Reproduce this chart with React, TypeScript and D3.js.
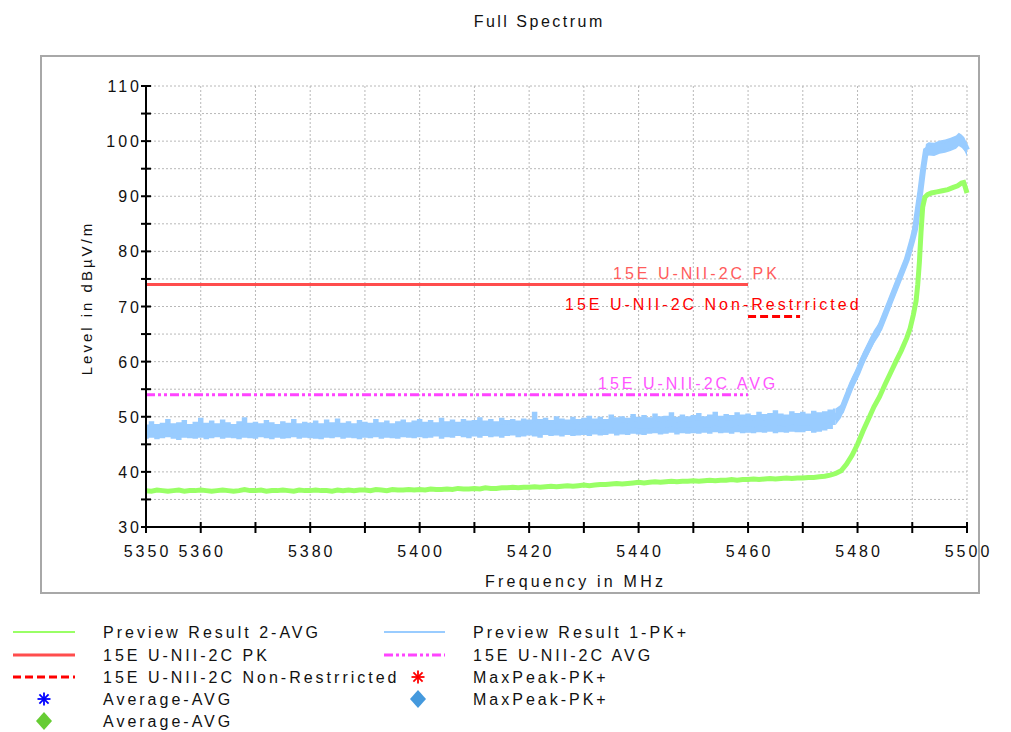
import React from "react";
import * as d3 from "d3";

// ---------- data ----------
const title = "Full Spectrum";
const xLabel = "Frequency in MHz";
const yLabel = "Level in dBµV/m";
const xDomain = [5350, 5500];
const yDomain = [30, 110];
const xTickLabels = [5350, 5360, 5380, 5400, 5420, 5440, 5460, 5480, 5500];
const yTickLabels = [30, 40, 50, 60, 70, 80, 90, 100, 110];

// Preview Result 1-PK+ : 1 MHz samples 5350..5476 (low / high edges of the noisy trace)
const pkFlatStart = 5350;
const pkFlatLo = [
  46.0, 46.2, 45.9, 46.1, 46.3, 46.0, 45.8, 46.2, 46.1, 46.0,
  46.2, 45.9, 46.1, 46.3, 46.0, 46.2, 46.1, 45.9, 46.2, 46.1,
  46.0, 46.3, 46.1, 45.9, 46.2, 46.0, 46.1, 46.3, 46.0, 46.2,
  46.1, 46.0, 45.9, 46.2, 46.1, 46.3, 46.0, 46.2, 46.1, 45.9,
  46.2, 46.1, 46.3, 46.0, 46.2, 46.1, 46.0, 46.3, 46.2, 46.1,
  46.3, 46.1, 46.2, 46.4, 46.0, 46.3, 46.2, 46.5, 46.3, 46.1,
  46.4, 46.2, 46.5, 46.3, 46.4, 46.2, 46.5, 46.6, 46.3, 46.4,
  46.6, 46.4, 46.2, 46.7, 46.5, 46.6, 46.4, 46.7, 46.5, 46.6,
  46.7, 46.5, 46.8, 46.6, 46.7, 46.9, 46.6, 46.8, 46.7, 46.9,
  46.8, 46.7, 46.9, 47.0, 46.8, 46.9, 47.1, 46.8, 47.0, 46.9,
  47.0, 46.9, 47.1, 46.9, 47.2, 47.0, 47.1, 46.9, 47.2, 47.0,
  47.1, 47.0, 47.2, 47.1, 47.3, 47.0, 47.2, 47.1, 47.3, 47.2,
  47.2, 47.4, 47.1, 47.3, 47.5, 47.8, 48.5,
];
const pkFlatHi = [
  48.6, 49.2, 48.7, 48.9, 49.6, 48.8, 49.0, 49.4, 48.7, 49.1,
  49.8, 48.9, 49.3, 48.8, 49.5, 49.0, 48.7, 49.2, 49.9, 48.9,
  49.1, 48.8, 49.4, 49.0, 48.7, 49.2, 48.9, 49.6, 48.8, 49.1,
  48.9, 49.3, 48.8, 49.5, 49.0, 49.7, 48.9, 49.2, 48.8, 49.4,
  49.1, 48.9, 49.6, 49.0, 49.3, 48.8, 49.2, 49.5, 49.0, 49.3,
  49.6, 49.1, 49.4, 49.0, 49.8, 49.2, 49.5, 49.1, 49.6, 49.3,
  49.4, 49.9, 49.3, 49.6, 49.2, 49.8, 49.4, 49.6, 49.3, 49.7,
  49.5, 50.9, 49.6, 49.8, 49.4, 50.1, 49.7, 49.5, 50.0, 49.6,
  49.8, 50.2, 49.7, 50.0, 49.6, 50.4, 49.9, 50.1, 49.8, 50.5,
  50.0, 50.3, 49.9, 50.6, 50.1, 50.2, 50.8, 50.0, 50.4, 50.1,
  50.3, 50.7, 50.1, 50.4, 50.9, 50.2, 50.5, 50.3, 50.8, 50.4,
  50.6, 50.3, 50.9, 50.5, 50.7, 51.2, 50.6, 50.4, 51.0, 50.7,
  50.9, 50.6, 51.1, 50.8, 51.0, 51.3, 51.5,
];
// PK+ rising edge: frequency / centre level
const pkRiseFreq = [5477, 5478, 5479, 5480, 5481, 5482, 5483, 5484, 5485, 5486, 5487, 5488, 5489, 5490, 5490.5, 5491, 5491.5, 5492, 5492.5, 5493, 5494, 5495, 5496, 5497, 5498, 5498.5, 5499, 5499.5, 5500];
const pkRiseLevel = [51.0, 53.5, 56.0, 58.0, 60.5, 62.5, 64.5, 66.0, 68.5, 71.0, 73.5, 76.0, 78.5, 82.0, 84.0, 87.5, 91.0, 95.0, 98.3, 98.6, 98.5, 98.9, 99.1, 99.4, 99.8, 100.3, 100.0, 99.5, 98.4];

// Preview Result 2-AVG : 1 MHz samples 5350..5476
const avFlatStart = 5350;
const avFlat = [
  36.6, 36.5, 36.7, 36.6, 36.5, 36.6, 36.7, 36.5, 36.6, 36.6,
  36.7, 36.6, 36.5, 36.6, 36.7, 36.6, 36.5, 36.6, 36.8, 36.6,
  36.6, 36.7, 36.5, 36.6, 36.6, 36.7, 36.6, 36.5, 36.7, 36.6,
  36.6, 36.7, 36.6, 36.6, 36.5, 36.7, 36.6, 36.7, 36.6, 36.7,
  36.7, 36.6, 36.8, 36.7, 36.6, 36.8, 36.7, 36.7, 36.8, 36.7,
  36.8, 36.7, 36.9, 36.8, 36.8, 36.9, 36.8, 37.0, 36.9, 36.9,
  37.0, 36.9, 37.1, 37.0, 37.0, 37.1, 37.1, 37.2, 37.1, 37.2,
  37.2, 37.3, 37.2, 37.3, 37.4, 37.3, 37.4, 37.5, 37.4, 37.5,
  37.6, 37.5, 37.6, 37.7, 37.7, 37.8, 37.9, 37.8, 37.9, 38.0,
  38.1, 38.0, 38.1, 38.2, 38.1, 38.2, 38.3, 38.2, 38.3, 38.3,
  38.4, 38.3, 38.4, 38.5, 38.4, 38.5, 38.5, 38.6, 38.5, 38.6,
  38.6, 38.7, 38.6, 38.7, 38.8, 38.7, 38.8, 38.9, 38.8, 38.9,
  38.9, 39.0, 39.0, 39.1, 39.2, 39.4, 39.7,
];
const avRiseFreq = [5477, 5478, 5479, 5480, 5481, 5482, 5483, 5484, 5485, 5486, 5487, 5488, 5489, 5489.6, 5490.2, 5490.7, 5491.0, 5491.3, 5491.6, 5491.9, 5492.3, 5492.8, 5493.5, 5494.5, 5495.5, 5496.5, 5497.5, 5498.3, 5499.0, 5499.4, 5499.7, 5500];
const avRiseLevel = [40.2, 41.4, 43.0, 45.0, 47.4, 49.6, 51.8, 53.6, 55.8, 57.9, 60.0, 62.0, 64.3, 66.0, 68.5, 71.0, 74.0, 78.0, 83.5, 88.0, 89.8, 90.3, 90.6, 90.8, 91.0, 91.2, 91.6, 91.9, 92.4, 92.5, 91.6, 90.6];

// limit lines
const pkLimit = { name: "15E U-NII-2C PK", level: 74, from: 5350, to: 5460 };
const nrLimit = { name: "15E U-NII-2C Non-Restrricted", level: 68.2, from: 5460, to: 5469.5 };
const avLimit = { name: "15E U-NII-2C AVG", level: 54, from: 5350, to: 5460 };

const legendLeft = [
  { kind: "line", color: "#99ff66", label: "Preview Result 2-AVG" },
  { kind: "solid", color: "#ff4d4d", label: "15E U-NII-2C PK" },
  { kind: "dash", color: "#ff0000", label: "15E U-NII-2C Non-Restrricted" },
  { kind: "star", color: "#0000ff", label: "Average-AVG" },
  { kind: "diamond", color: "#66cc33", label: "Average-AVG" },
];
const legendRight = [
  { kind: "line", color: "#99ccff", label: "Preview Result 1-PK+" },
  { kind: "dashdot", color: "#ff44ff", label: "15E U-NII-2C AVG" },
  { kind: "star", color: "#ff0000", label: "MaxPeak-PK+" },
  { kind: "diamond", color: "#4499dd", label: "MaxPeak-PK+" },
];

// ---------- layout ----------
const W = 1011;
const H = 732;
const PL = 146, PR = 967, PT = 86, PB = 527;
const FONT = "Arial, 'Liberation Sans', Helvetica, sans-serif";
const LS = 3;

function Star({ x, y, color }: { x: number; y: number; color: string }) {
  const r = 6.5;
  const angles = [0, 45, 90, 135];
  return (
    <g stroke={color} strokeWidth={1.8}>
      {angles.map((a) => {
        const rad = (a * Math.PI) / 180;
        return <line key={a} x1={x - r * Math.cos(rad)} y1={y - r * Math.sin(rad)} x2={x + r * Math.cos(rad)} y2={y + r * Math.sin(rad)} />;
      })}
    </g>
  );
}

function Diamond({ x, y, color }: { x: number; y: number; color: string }) {
  return <path d={`M${x},${y - 9}L${x + 8},${y}L${x},${y + 9}L${x - 8},${y}Z`} fill={color} />;
}

function LegendSample({ item, x0, x1, y }: { item: any; x0: number; x1: number; y: number }) {
  const cx = (x0 + x1) / 2;
  if (item.kind === "line") return <line x1={x0} x2={x1} y1={y} y2={y} stroke={item.color} strokeWidth={2} />;
  if (item.kind === "solid") return <line x1={x0} x2={x1} y1={y} y2={y} stroke={item.color} strokeWidth={3} />;
  if (item.kind === "dash") return <line x1={x0} x2={x1} y1={y} y2={y} stroke={item.color} strokeWidth={3} strokeDasharray="8,4" />;
  if (item.kind === "dashdot") return <line x1={x0} x2={x1} y1={y} y2={y} stroke={item.color} strokeWidth={3} strokeDasharray="9,3,3,3,3,3" />;
  if (item.kind === "star") return <Star x={cx} y={y} color={item.color} />;
  return <Diamond x={cx} y={y} color={item.color} />;
}

export default function App() {
  const x = d3.scaleLinear().domain(xDomain).range([PL, PR]);
  const y = d3.scaleLinear().domain(yDomain).range([PB, PT]);

  const pkFlat = pkFlatLo.map((lo, i) => ({ f: pkFlatStart + i, lo, hi: pkFlatHi[i], c: (lo + pkFlatHi[i]) / 2 }));
  const pkRise = pkRiseFreq.map((f, i) => ({ f, lo: pkRiseLevel[i] - 1.2, hi: pkRiseLevel[i] + 1.2, c: pkRiseLevel[i] }));
  const pkAll = [...pkFlat, ...pkRise];
  const pkRiseWithJoin = [pkFlat[pkFlat.length - 1], ...pkRise];

  const avAll = [
    ...avFlat.map((v, i) => ({ f: avFlatStart + i, v })),
    ...avRiseFreq.map((f, i) => ({ f, v: avRiseLevel[i] })),
  ];

  const pkAreaStep = d3
    .area<any>()
    .curve(d3.curveStep)
    .x((d) => x(d.f))
    .y0((d) => y(d.lo))
    .y1((d) => y(d.hi));
  const pkAreaLin = d3
    .area<any>()
    .x((d) => x(d.f))
    .y0((d) => y(d.lo))
    .y1((d) => y(d.hi));
  const pkLine = d3
    .line<any>()
    .x((d) => x(d.f))
    .y((d) => y(d.c));
  const avLine = d3
    .line<any>()
    .x((d) => x(d.f))
    .y((d) => y(d.v));

  const yGrid = d3.range(yDomain[0] + 5, yDomain[1] + 0.1, 5);
  const xGrid = d3.range(xDomain[0] + 10, xDomain[1] + 0.1, 10);
  const yTicks = d3.range(yDomain[0], yDomain[1] + 0.1, 5);
  const xTicks = d3.range(xDomain[0], xDomain[1] + 0.1, 10);

  const legendRows = [632, 655, 677, 699, 721];

  return (
    <svg width={W} height={H} style={{ position: "absolute", left: 0, top: 0, background: "#fff" }} fontFamily={FONT}>
      <rect x={0} y={0} width={W} height={H} fill="#fff" />
      {/* title */}
      <text x={538 + 1.25} y={27} fontSize={16} letterSpacing={2.5} textAnchor="middle" fill="#111">
        {title}
      </text>
      {/* frame */}
      <rect x={41} y={56} width={938} height={537} fill="none" stroke="#a8a8a8" strokeWidth={2} />

      {/* grid */}
      <g stroke="#b8b8b8" strokeWidth={1} strokeDasharray="2,2">
        {yGrid.map((v) => (
          <line key={"gy" + v} x1={PL} x2={PR} y1={y(v)} y2={y(v)} />
        ))}
        {xGrid.map((v) => (
          <line key={"gx" + v} x1={x(v)} x2={x(v)} y1={PT} y2={PB} />
        ))}
      </g>

      {/* traces */}
      <g clipPath="url(#plotclip)">
        <path d={pkAreaStep(pkFlat) || ""} fill="#99ccff" />
        <path d={pkAreaLin(pkRiseWithJoin) || ""} fill="#99ccff" />
        <path d={pkLine(pkAll) || ""} fill="none" stroke="#99ccff" strokeWidth={6} />
        <path d={avLine(avAll) || ""} fill="none" stroke="#99ff66" strokeWidth={5} />
      </g>
      <defs>
        <clipPath id="plotclip">
          <rect x={PL} y={PT - 2} width={PR - PL + 4} height={PB - PT + 2} />
        </clipPath>
      </defs>

      {/* limit lines */}
      <line x1={x(pkLimit.from)} x2={x(pkLimit.to)} y1={y(pkLimit.level)} y2={y(pkLimit.level)} stroke="#ff4d4d" strokeWidth={3} />
      <line x1={x(nrLimit.from)} x2={x(nrLimit.to)} y1={y(nrLimit.level)} y2={y(nrLimit.level)} stroke="#ff0000" strokeWidth={3} strokeDasharray="8,4" />
      <line x1={x(avLimit.from)} x2={x(avLimit.to)} y1={y(avLimit.level)} y2={y(avLimit.level)} stroke="#ff44ff" strokeWidth={3} strokeDasharray="9,3,3,3,3,3" />
      <text x={x(pkLimit.to) - 135} y={y(pkLimit.level) - 5} fontSize={16} letterSpacing={LS} fill="#ff5c5c">
        {pkLimit.name}
      </text>
      <text x={x(nrLimit.from) - 183} y={y(nrLimit.level) - 6} fontSize={16} letterSpacing={LS} fill="#ff0000">
        {nrLimit.name}
      </text>
      <text x={x(avLimit.to) - 150} y={y(avLimit.level) - 6} fontSize={16} letterSpacing={LS} fill="#ff55ff">
        {avLimit.name}
      </text>

      {/* axes */}
      <g stroke="#000" strokeWidth={2}>
        <line x1={PL} x2={PL} y1={PT - 1} y2={PB} />
        <line x1={PL} x2={PR} y1={PB} y2={PB} />
        {yTicks.map((v) => (
          <line key={"ty" + v} x1={PL - 5} x2={PL + 5} y1={y(v)} y2={y(v)} />
        ))}
        {xTicks.map((v) => (
          <line key={"tx" + v} x1={x(v)} x2={x(v)} y1={PB - 5} y2={PB + 6} />
        ))}
      </g>
      {yTickLabels.map((v) => (
        <text key={"ly" + v} x={PL - 7 + LS} y={y(v) + 6} fontSize={16} letterSpacing={LS} textAnchor="end" fill="#111">
          {v}
        </text>
      ))}
      {xTickLabels.map((v) => (
        <text key={"lx" + v} x={x(v) + LS / 2} y={557} fontSize={16} letterSpacing={LS} textAnchor="middle" fill="#111">
          {v}
        </text>
      ))}
      <text x={574 + 1.6} y={587} fontSize={16} letterSpacing={3.2} textAnchor="middle" fill="#111">
        {xLabel}
      </text>
      <text transform={`translate(92,${298}) rotate(-90)`} fontSize={15} letterSpacing={3} textAnchor="middle" fill="#111">
        {yLabel}
      </text>

      {/* legend */}
      {legendLeft.map((it, i) => (
        <g key={"ll" + i}>
          <LegendSample item={it} x0={13} x1={75} y={legendRows[i]} />
          <text x={103} y={legendRows[i] + 6} fontSize={16} letterSpacing={LS} fill="#111">
            {it.label}
          </text>
        </g>
      ))}
      {legendRight.map((it, i) => (
        <g key={"lr" + i}>
          <LegendSample item={it} x0={i >= 2 ? 388 : 384} x1={i >= 2 ? 448 : 445} y={legendRows[i]} />
          <text x={473} y={legendRows[i] + 6} fontSize={16} letterSpacing={LS} fill="#111">
            {it.label}
          </text>
        </g>
      ))}
    </svg>
  );
}
